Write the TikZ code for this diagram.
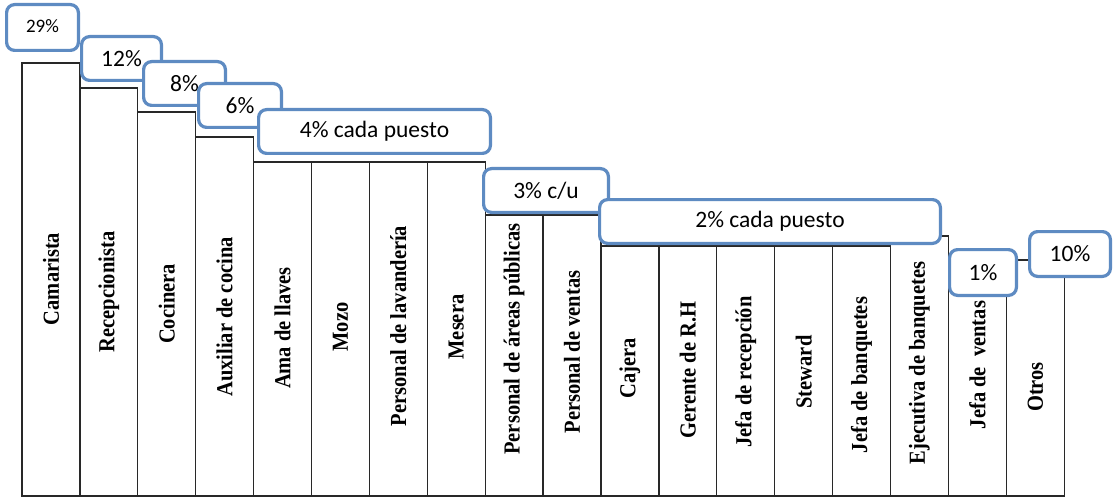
\documentclass[tikz,border=0pt]{standalone}
\usepackage{fontspec}
\setmainfont{Liberation Serif}
\newfontfamily\boxfont{Carlito}
\definecolor{boxblue}{RGB}{94,139,194}
\definecolor{barline}{RGB}{40,40,40}
\newcommand{\tallword}[1]{\scalebox{1}[1.12]{#1}}
\begin{document}
\begin{tikzpicture}[x=1pt,y=-1pt,
  bar/.style={draw=barline, line width=1.3pt},
  job/.style={rotate=90, font=\bfseries\fontsize{20.5}{22}\selectfont, inner sep=0pt},
  share/.style={draw=boxblue, line width=3.2pt, rounded corners=8pt, fill=white,
    inner sep=0pt, font=\boxfont\fontsize{23.5}{26}\selectfont}]
\useasboundingbox (0,0) rectangle (1115,497);

% columns: index / top edge / job title / label centre
\foreach \i/\top/\name/\ly in {
  0/63/Camarista/279,
  1/88/Recepcionista/292,
  2/112/Cocinera/304,
  3/137/Auxiliar de cocina/317,
  4/162/Ama de llaves/328,
  5/162/Mozo/327,
  6/162/Personal de lavandería/326,
  7/162/Mesera/327,
  8/215/Personal de áreas públicas/339,
  9/215/Personal de ventas/352,
  10/246/Cajera/368,
  11/246/Gerente de R.H/370,
  12/246/Jefa de recepción/372,
  13/246/Steward/372,
  14/246/Jefa de banquetes/375,
  15/236/Ejecutiva de banquetes/363,
  16/260/Jefa de\ \ ventas/365,
  17/260/Otros/387}
{
  \draw[bar] ({22+57.9*\i},\top) rectangle ({22+57.9*(\i+1)},496);
  \node[job] (job\i) at ({22+57.9*\i+28.95},\ly) {\tallword{\name}};
}

% percentage boxes on top of the columns
\node[share, minimum width=71.8pt, minimum height=45.8pt,
      font=\boxfont\fontsize{19}{22}\selectfont] (p29) at (42.5,27.5) {\raisebox{3pt}{29\%}};
\node[share, minimum width=79.8pt, minimum height=43.8pt] (p12) at (121.5,58.5) {12\%};
\node[share, minimum width=81.8pt, minimum height=43.8pt] (p8) at (184.5,83.5) {8\%};
\node[share, minimum width=82.8pt, minimum height=43.8pt] (p6) at (240,105.5) {6\%};
\node[share, minimum width=231.8pt, minimum height=43.8pt] (p4) at (374.5,131.5) {4\% cada puesto};
\node[share, minimum width=124.8pt, minimum height=43.8pt] (p3) at (546,190.5) {3\% c/u};
\node[share, minimum width=340.8pt, minimum height=43.8pt] (p2) at (770,221.5) {2\% cada puesto};
\node[share, minimum width=66.8pt, minimum height=45.8pt] (p1) at (983,272.5) {1\%};
\node[share, minimum width=80.8pt, minimum height=44.8pt] (p10) at (1070,254) {10\%};
\end{tikzpicture}
\end{document}
